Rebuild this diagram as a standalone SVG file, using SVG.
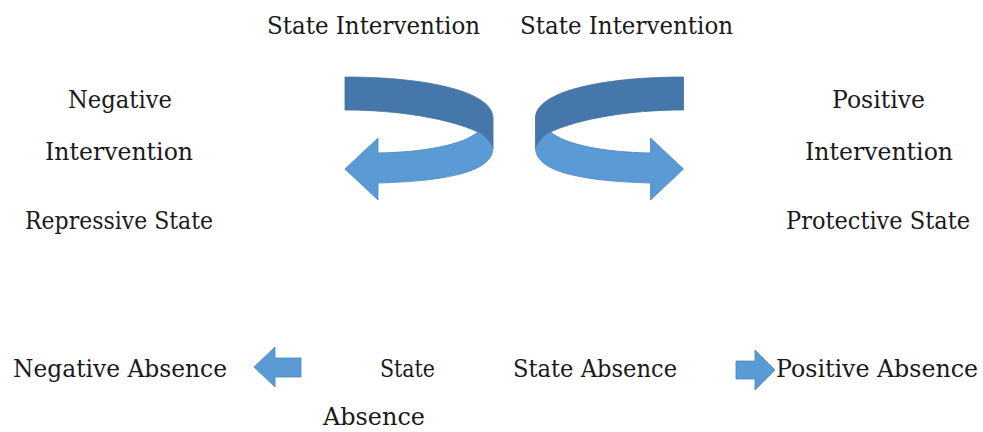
<svg xmlns="http://www.w3.org/2000/svg" width="983" height="432" viewBox="0 0 983 432">
<style>
text{font-family:"DejaVu Serif","Liberation Serif",serif;font-size:24px;fill:#1a1a1a}
.dk{fill:#4677AA;stroke:#41719C;stroke-width:0.8}
.lt{fill:#5B9BD5;stroke:#4D86BC;stroke-width:0.8}
</style>
<rect width="983" height="432" fill="#ffffff"/>
<defs>
<g id="curl">
<path class="dk" d="M345,77 C428,77 493,92 493,118 L493,148 C489,140 484,135 478,132 C450,119 400,110 345,110 Z"/>
<path class="lt" d="M493,148 C493,171 450,181 378,183 L378,200 L345,169 L378,138 L378,153 C425,152 462,145 478,132 C484,135 489,140 493,148 Z"/>
</g>
</defs>
<g id="connectors">
<use id="curl-left" href="#curl"/>
<use id="curl-right" href="#curl" transform="translate(1028.5,0) scale(-1,1)"/>
<path id="arrow-neg-absence" class="lt" d="M254,367 L275,347 L275,358 L301,358 L301,377 L275,377 L275,387 Z"/>
<path id="arrow-pos-absence" class="lt" d="M736,361 L755,361 L755,350 L775,370 L755,390 L755,379 L736,379 Z"/>
</g>
<g id="node-state-intervention-left"><text x="267" y="34" textLength="213" lengthAdjust="spacingAndGlyphs">State Intervention</text></g>
<g id="node-state-intervention-right"><text x="520" y="34" textLength="213" lengthAdjust="spacingAndGlyphs">State Intervention</text></g>
<g id="node-negative-intervention">
<text x="68" y="108" textLength="104" lengthAdjust="spacingAndGlyphs">Negative</text>
<text x="45" y="160" textLength="148" lengthAdjust="spacingAndGlyphs">Intervention</text>
</g>
<g id="node-repressive-state"><text x="25" y="229" textLength="188" lengthAdjust="spacingAndGlyphs">Repressive State</text></g>
<g id="node-positive-intervention">
<text x="832" y="108" textLength="93" lengthAdjust="spacingAndGlyphs">Positive</text>
<text x="805" y="160" textLength="148" lengthAdjust="spacingAndGlyphs">Intervention</text>
</g>
<g id="node-protective-state"><text x="786" y="229" textLength="184" lengthAdjust="spacingAndGlyphs">Protective State</text></g>
<g id="node-negative-absence"><text x="13" y="377" textLength="214" lengthAdjust="spacingAndGlyphs">Negative Absence</text></g>
<g id="node-state-absence-left">
<text x="380" y="377" textLength="55" lengthAdjust="spacingAndGlyphs">State</text>
<text x="323" y="425" textLength="102" lengthAdjust="spacingAndGlyphs">Absence</text>
</g>
<g id="node-state-absence-right"><text x="513" y="377" textLength="164" lengthAdjust="spacingAndGlyphs">State Absence</text></g>
<g id="node-positive-absence"><text x="776" y="377" textLength="202" lengthAdjust="spacingAndGlyphs">Positive Absence</text></g>
</svg>
